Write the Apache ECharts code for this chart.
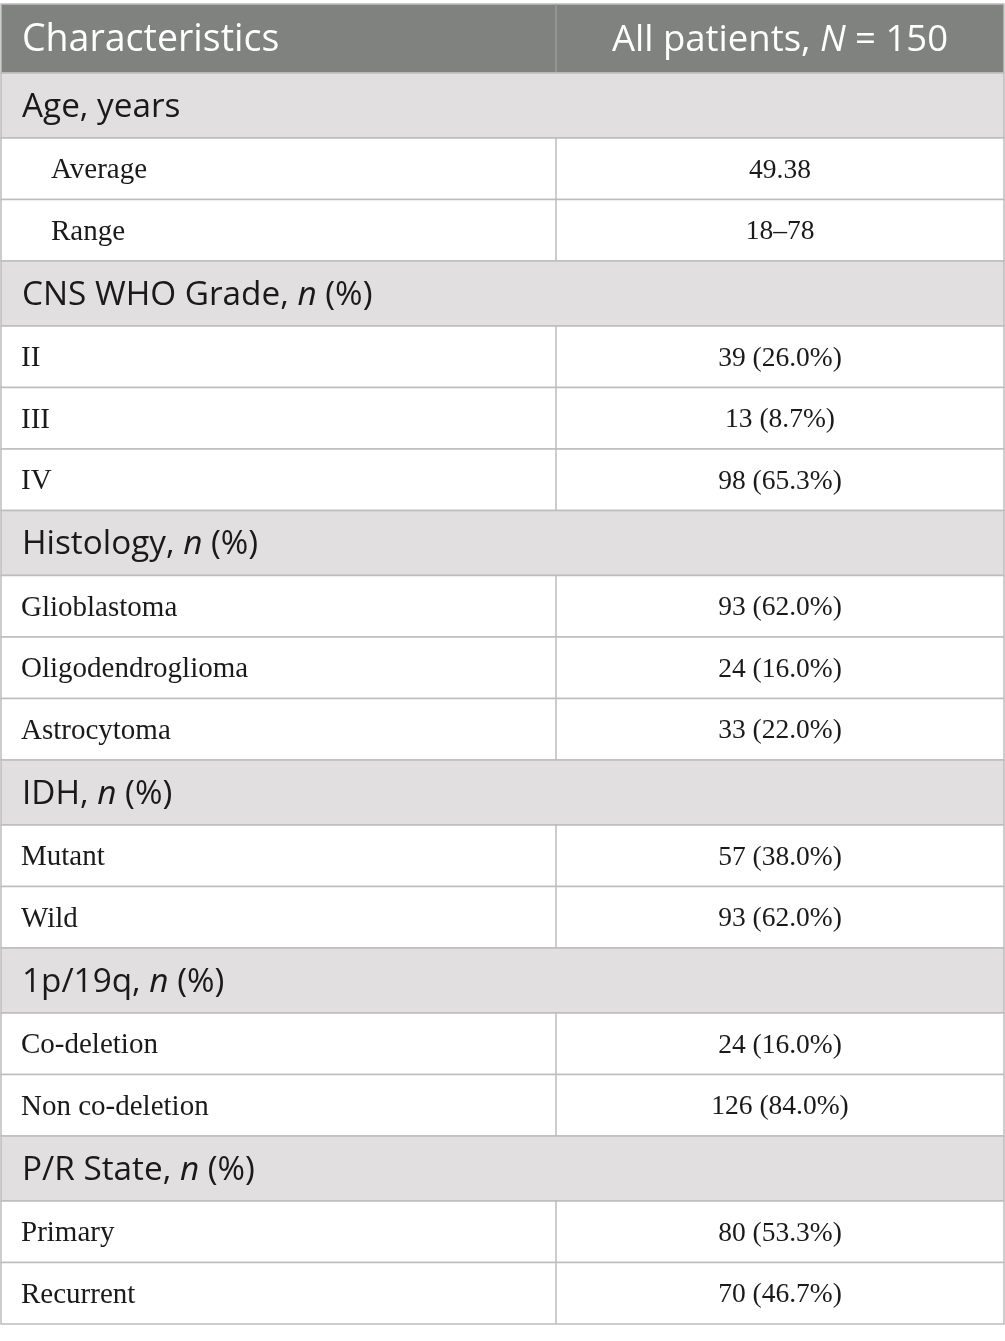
<!DOCTYPE html>
<html>
<head>
<meta charset="utf-8">
<script src="https://cdn.jsdelivr.net/npm/echarts@6/dist/echarts.min.js"></script>
<style>
  html, body { margin: 0; padding: 0; background: #ffffff; }
  #table { width: 1005px; height: 1341px; }
</style>
</head>
<body>
<div id="table"></div>
<script>
// column headings
let headLeft = "Characteristics";
let headRight = "All patients, {i|N} = 150";

// section titles ({i|..} = italic)
let sectionTitles = ["Age, years", "CNS WHO Grade, {i|n} (%)", "Histology, {i|n} (%)", "IDH, {i|n} (%)", "1p/19q, {i|n} (%)", "P/R State, {i|n} (%)"];

// rows of each section
let ageLabels = ["Average", "Range"];
let ageValues = ["49.38", "18–78"];
let gradeLabels = ["II", "III", "IV"];
let gradeValues = ["39 (26.0%)", "13 (8.7%)", "98 (65.3%)"];
let histLabels = ["Glioblastoma", "Oligodendroglioma", "Astrocytoma"];
let histValues = ["93 (62.0%)", "24 (16.0%)", "33 (22.0%)"];
let idhLabels = ["Mutant", "Wild"];
let idhValues = ["57 (38.0%)", "93 (62.0%)"];
let codelLabels = ["Co-deletion", "Non co-deletion"];
let codelValues = ["24 (16.0%)", "126 (84.0%)"];
let stateLabels = ["Primary", "Recurrent"];
let stateValues = ["80 (53.3%)", "70 (46.7%)"];

let groupLabels = [ageLabels, gradeLabels, histLabels, idhLabels, codelLabels, stateLabels];
let groupValues = [ageValues, gradeValues, histValues, idhValues, codelValues, stateValues];
let indentedGroups = [0];

// row heights by kind (axis units = px)
let H = { head: 69, section: 65, row: 61.5 };

let rows = [{ kind: "head", left: headLeft, right: headRight }];
sectionTitles.forEach((t, g) => {
    rows.push({ kind: "section", left: t });
    groupLabels[g].forEach((l, k) => {
        rows.push({ kind: "row", left: l, right: groupValues[g][k], indent: indentedGroups.indexOf(g) >= 0 });
    });
});
let tops = [];
let total = 0;
rows.forEach(r => { tops.push(total); total += H[r.kind]; });

let split = 555 / 1003; // column divider as share of the table width
let lineColor = "#bdbdbd";
let ink = "#1a1a1a";

let myChar = echarts.init(document.getElementById("table"), null, { renderer: "canvas" });

function renderItem(params, api) {
    let i = api.value(0);
    let r = rows[i];
    let p0 = api.coord([0, tops[i]]);
    let p1 = api.coord([1, tops[i] + H[r.kind]]);
    let pm = api.coord([split, tops[i]]);
    let x0 = p0[0], y0 = p0[1], x1 = p1[0], y1 = p1[1], xm = pm[0];
    let cy = (y0 + y1) / 2 + 2;
    let children = [];
    if (r.kind === "head") {
        children.push({ type: "rect", shape: { x: x0, y: y0, width: x1 - x0, height: y1 - y0 }, style: { fill: "#808280", stroke: lineColor, lineWidth: 1.5 } });
        children.push({ type: "line", shape: { x1: xm, y1: y0, x2: xm, y2: y1 }, style: { stroke: "#9a9c9a", lineWidth: 1.5 } });
        children.push({ type: "text", style: { text: r.left, x: x0 + 21, y: cy, verticalAlign: "middle", fill: "#ffffff", font: "37.5px 'Open Sans'" } });
        children.push({ type: "text", style: { text: r.right, x: (xm + x1) / 2, y: cy, align: "center", verticalAlign: "middle", fill: "#ffffff", font: "36.5px 'Open Sans'",
            rich: { i: { fontStyle: "italic", fontFamily: "Open Sans", fontSize: 36.5, fill: "#ffffff" } } } });
    } else if (r.kind === "section") {
        children.push({ type: "rect", shape: { x: x0, y: y0, width: x1 - x0, height: y1 - y0 }, style: { fill: "#e1dfe0", stroke: lineColor, lineWidth: 1.5 } });
        children.push({ type: "text", style: { text: r.left, x: x0 + 21, y: cy, verticalAlign: "middle", fill: ink, font: "33.3px 'Open Sans'",
            rich: { i: { fontStyle: "italic", fontFamily: "Open Sans", fontSize: 33.3, fill: ink } } } });
    } else {
        children.push({ type: "rect", shape: { x: x0, y: y0, width: x1 - x0, height: y1 - y0 }, style: { fill: "#ffffff", stroke: lineColor, lineWidth: 1.5 } });
        children.push({ type: "line", shape: { x1: xm, y1: y0, x2: xm, y2: y1 }, style: { stroke: lineColor, lineWidth: 1.5 } });
        children.push({ type: "text", style: { text: r.left, x: x0 + (r.indent ? 50 : 20), y: cy, verticalAlign: "middle", fill: ink, font: "29px 'Liberation Serif'" } });
        children.push({ type: "text", style: { text: r.right, x: (xm + x1) / 2, y: cy, align: "center", verticalAlign: "middle", fill: ink, font: "27.5px 'Liberation Serif'" } });
    }
    return { type: "group", children: children };
}

myChar.setOption({
    animation: false,
    backgroundColor: "#ffffff",
    grid: { left: 1, right: 1, top: 4, bottom: 1341 - 4 - total },
    xAxis: { type: "value", min: 0, max: 1, show: false },
    yAxis: { type: "value", min: 0, max: total, inverse: true, show: false },
    series: [{
        type: "custom",
        renderItem: renderItem,
        clip: false,
        data: rows.map((r, i) => [i])
    }]
});
</script>
</body>
</html>
